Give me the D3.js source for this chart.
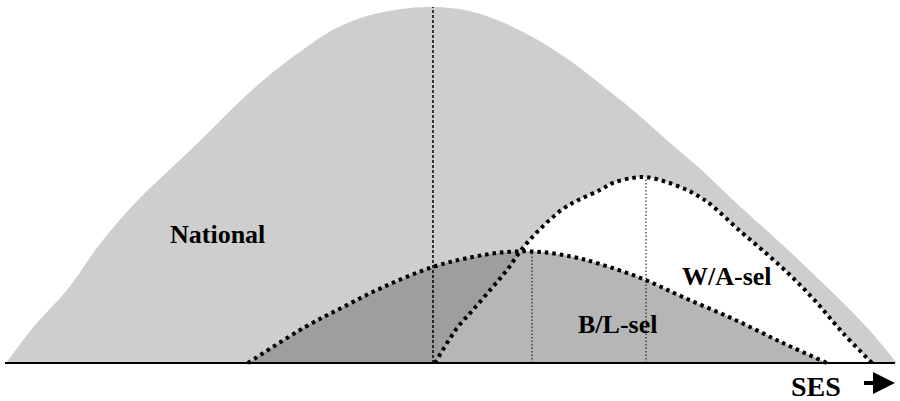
<!DOCTYPE html>
<html>
<head>
<meta charset="utf-8">
<script src="https://cdn.jsdelivr.net/npm/d3@7/dist/d3.min.js"></script>
<style>
  html, body { margin: 0; padding: 0; background: #fff; }
  svg { display: block; }
  .lbl { font-family: "Liberation Serif", "Times New Roman", serif; font-weight: 700; }
</style>
</head>
<body>
<svg id="chart" width="900" height="401"></svg>
<script>
// ---- Data (SES on x, relative density on y) ----
const nationalSES = [0.6, 3.3, 6.7, 10, 13.8, 18, 21.3, 24, 26.7, 30, 33.3, 36.7, 40, 43.3, 46.7, 50, 53.3, 56.7, 59.3, 63.3, 66.7, 70, 73.3, 80, 86.7, 89.7];
const nationalDensity = [0, 10, 20.5, 33.5, 45.8, 57, 66, 73.5, 80.3, 87.4, 93.6, 97.5, 99.4, 100, 99, 96, 91.5, 85.5, 80, 71, 62.6, 54.6, 45.8, 28.6, 10, 0];

const blSES = [24.8, 30.5, 34.3, 38.3, 43.3, 47.3, 50.7, 54, 57.3, 60, 64.3, 68.3, 73.3, 78.3, 82.7];
const blDensity = [0, 10.1, 15.7, 21.3, 27, 29.8, 31.2, 31.2, 29.8, 27.8, 23.6, 18.5, 12.4, 5.6, 0];

const waSES = [43.5, 45.7, 47.3, 49.2, 50.7, 52.2, 54, 56.3, 58, 60, 61.3, 63.3, 64.7, 66.7, 68.7, 70, 71, 74, 76.7, 79.3, 81.7, 84.3, 87.2];
const waDensity = [0, 9.8, 14.9, 21.1, 26.1, 32, 37.6, 43.3, 46, 48.6, 50.6, 52, 52.2, 50.8, 48.6, 46.6, 44.7, 37.1, 30.6, 23.9, 16.9, 8.4, 0];

const nationalMeanSES = 43.3;
const blPeakSES = 53.2, blPeakDensity = 31.3;
const waPeakSES = 64.6, waPeakDensity = 52.2;

const labels = [
  { text: "National", ses: 17, dens: 33.7 },
  { text: "W/A-sel", ses: 68.2, dens: 21.9 },
  { text: "B/L-sel", ses: 57.8, dens: 8.4 }
];
const axisLabel = "SES";

// ---- Scales ----
const x = d3.scaleLinear().domain([0, 90]).range([0, 900]);
const y = d3.scaleLinear().domain([0, 100]).range([363, 7]);

const svg = d3.select("#chart");
const defs = svg.append("defs");

const toPts = (xs, ys) => xs.map((v, i) => ({ x: v, y: ys[i] }));
const nat = toPts(nationalSES, nationalDensity);
const bl = toPts(blSES, blDensity);
const wa = toPts(waSES, waDensity);

const area = d3.area().x(d => x(d.x)).y0(y(0)).y1(d => y(d.y)).curve(d3.curveCatmullRom);
const line = d3.line().x(d => x(d.x)).y(d => y(d.y)).curve(d3.curveCatmullRom);

defs.append("clipPath").attr("id", "waClip").append("path").attr("d", area(wa));

// National fill
svg.append("path").attr("d", area(nat)).attr("fill", "#cecece");
// W/A fill (white)
svg.append("path").attr("d", area(wa)).attr("fill", "#ffffff");
// B/L fill (darker), then lighter where it overlaps W/A
svg.append("path").attr("d", area(bl)).attr("fill", "#9e9e9e");
svg.append("path").attr("d", area(bl)).attr("fill", "#b6b6b6").attr("clip-path", "url(#waClip)");

// Vertical reference lines
svg.append("line")
  .attr("x1", x(nationalMeanSES)).attr("x2", x(nationalMeanSES))
  .attr("y1", y(0)).attr("y2", y(100))
  .attr("stroke", "#000").attr("stroke-width", 1.5).attr("stroke-dasharray", "3,2");
svg.append("line")
  .attr("x1", x(blPeakSES)).attr("x2", x(blPeakSES))
  .attr("y1", y(0)).attr("y2", y(blPeakDensity))
  .attr("stroke", "#000").attr("stroke-width", 1).attr("stroke-dasharray", "1.5,2");
svg.append("line")
  .attr("x1", x(waPeakSES)).attr("x2", x(waPeakSES))
  .attr("y1", y(0)).attr("y2", y(waPeakDensity))
  .attr("stroke", "#000").attr("stroke-width", 1).attr("stroke-dasharray", "1.5,2");

// Dotted outlines
[bl, wa].forEach(d => {
  svg.append("path").attr("d", line(d))
    .attr("fill", "none").attr("stroke", "#000")
    .attr("stroke-width", 4).attr("stroke-dasharray", "3.5,4");
});

// Baseline
svg.append("line")
  .attr("x1", x(0.5)).attr("x2", x(89.5))
  .attr("y1", y(0)).attr("y2", y(0))
  .attr("stroke", "#000").attr("stroke-width", 2);

// Labels
labels.forEach(l => {
  svg.append("text").attr("class", "lbl").attr("x", x(l.ses)).attr("y", y(l.dens))
    .attr("font-size", 26).attr("fill", "#000").text(l.text);
});

// SES axis label with arrow
svg.append("text").attr("class", "lbl").attr("x", 791).attr("y", 396)
  .attr("font-size", 28).attr("fill", "#000").text(axisLabel);
svg.append("line").attr("x1", 864).attr("x2", 876).attr("y1", 383).attr("y2", 383)
  .attr("stroke", "#000").attr("stroke-width", 4);
svg.append("path").attr("d", d3.line()([[873, 372], [895, 383], [873, 394]]) + "Z").attr("fill", "#000");
</script>
</body>
</html>
